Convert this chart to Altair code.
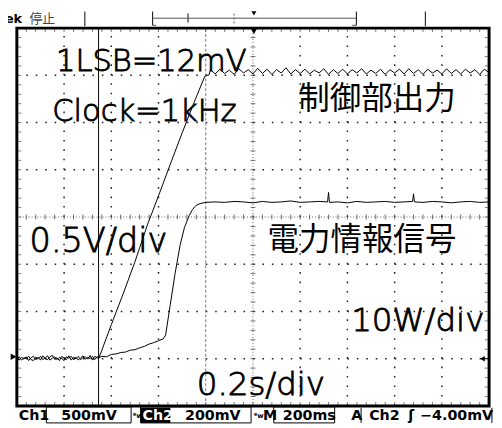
import altair as alt
import pandas as pd

# ---------------- data (time / level in graticule divisions; 0.2 s/div) ----------------
# Ch1 : 制御部出力 (0.5 V/div)
ch1_time = [0.00, 0.05, 0.10, 0.15, 0.20, 0.25, 0.30, 0.35, 0.40, 0.45,
            0.50, 0.55, 0.60, 0.65, 0.70, 0.75, 0.80, 0.85, 0.90, 0.95,
            1.00, 1.05, 1.10, 1.15, 1.20, 1.25, 1.30, 1.35, 1.40, 1.45,
            1.50, 1.55, 1.60, 1.65, 1.70,
            1.73, 1.80, 2.00, 2.25, 2.50, 2.77, 3.00, 3.25, 3.50, 3.75, 3.98,
            4.03, 4.07,
            4.10, 4.20, 4.30, 4.40, 4.50, 4.60, 4.70, 4.80, 4.90, 5.00,
            5.10, 5.20, 5.30, 5.40, 5.50, 5.60, 5.70, 5.80, 5.90, 6.00,
            6.10, 6.20, 6.30, 6.40, 6.50, 6.60, 6.70, 6.80, 6.90, 7.00,
            7.10, 7.20, 7.30, 7.40, 7.50, 7.60, 7.70, 7.80, 7.90, 8.00,
            8.10, 8.20, 8.30, 8.40, 8.50, 8.60, 8.70, 8.80, 8.90, 9.00,
            9.10, 9.20, 9.30, 9.40, 9.50, 9.60, 9.70, 9.80, 9.90, 10.00]
ch1_level = [1.01, 0.97, 1.03, 0.99, 1.04, 0.96, 1.02, 1.05, 0.98, 1.03,
             0.97, 1.06, 1.00, 0.98, 1.04, 1.07, 0.99, 1.02, 0.96, 1.05,
             1.01, 0.98, 1.06, 0.97, 1.03, 1.00, 1.05, 0.98, 1.02, 1.04,
             0.99, 1.07, 0.97, 1.05, 1.02,
             1.00, 1.18, 1.72, 2.37, 3.05, 3.85, 4.45, 5.12, 5.78, 6.42, 6.98,
             7.00, 7.01,
             7.12, 7.03, 7.13, 7.04, 7.11, 7.02, 7.14, 7.05, 7.12, 7.03,
             7.15, 7.04, 7.13, 7.02, 7.12, 7.05, 7.16, 7.03, 7.12, 7.04,
             7.13, 7.03, 7.11, 7.05, 7.14, 7.02, 7.12, 7.04, 7.13, 7.03,
             7.12, 7.05, 7.14, 7.03, 7.11, 7.04, 7.13, 7.02, 7.12, 7.05,
             7.13, 7.03, 7.14, 7.04, 7.12, 7.02, 7.13, 7.05, 7.11, 7.03,
             7.14, 7.04, 7.12, 7.03, 7.13, 7.05, 7.12, 7.02, 7.13, 7.06]

# Ch2 : 電力情報信号 (10 W/div)
ch2_time = [0.00, 0.05, 0.10, 0.15, 0.20, 0.25, 0.30, 0.35, 0.40, 0.45,
            0.50, 0.55, 0.60, 0.65, 0.70, 0.75, 0.80, 0.85, 0.90, 0.95,
            1.00, 1.05, 1.10, 1.15, 1.20, 1.25, 1.30, 1.35, 1.40, 1.45,
            1.50, 1.55, 1.60, 1.65, 1.70,
            1.73, 1.80, 1.90, 2.00, 2.10, 2.20, 2.30, 2.40, 2.50, 2.60,
            2.70, 2.80, 2.90, 3.00, 3.10, 3.15, 3.25, 3.35, 3.46, 3.55,
            3.65, 3.72, 3.80, 3.90, 4.00,
            4.20, 4.40, 4.60, 4.80, 5.00, 5.20, 5.40, 5.60, 5.80, 6.00,
            6.20, 6.40, 6.58, 6.60, 6.62, 6.80, 7.00, 7.20, 7.40, 7.60,
            7.80, 8.00, 8.20, 8.38, 8.40, 8.42, 8.60, 8.80, 9.00, 9.20,
            9.40, 9.60, 9.80, 10.00]
ch2_level = [0.99, 1.04, 0.97, 1.02, 1.00, 1.05, 0.98, 0.96, 1.03, 1.00,
             1.05, 0.98, 1.02, 1.06, 0.97, 1.01, 1.04, 0.98, 1.03, 1.00,
             0.96, 1.04, 1.01, 1.05, 0.98, 1.03, 0.97, 1.02, 1.06, 0.99,
             1.03, 1.00, 1.05, 0.98, 1.04,
             1.02, 1.05, 1.04, 1.09, 1.10, 1.13, 1.14, 1.18, 1.19, 1.23,
             1.26, 1.31, 1.34, 1.38, 1.42, 1.50, 2.15, 2.80, 3.42, 3.78,
             4.03, 4.16, 4.25, 4.29, 4.31,
             4.32, 4.31, 4.33, 4.32, 4.30, 4.33, 4.31, 4.32, 4.34, 4.31,
             4.32, 4.33, 4.32, 4.52, 4.31, 4.32, 4.30, 4.33, 4.31, 4.32,
             4.33, 4.31, 4.32, 4.33, 4.49, 4.32, 4.31, 4.33, 4.32, 4.30,
             4.32, 4.33, 4.31, 4.32]

# annotation texts
latin_labels = ["1LSB=12mV", "Clock=1kHz", "0.5V/div", "10W/div", "0.2s/div"]
cjk_labels = ["制御部出力", "電力情報信号"]
status_labels = ["Ch1", "500mV", "ᴮw", "Ch2", "200mV", "ᴮw", "M", "200ms", "A", "Ch2", "ʃ", "−4.00mV"]

# ---------------- layout (graticule divisions) ----------------
latin_x = [0.83, 0.75, 0.27, 7.08, 3.81]
latin_y = [7.10, 6.04, 3.25, 1.58, 0.23]
latin_fs = [31, 31, 34, 33, 33]
cjk_x = [5.96, 5.31]
cjk_y = [6.50, 3.50]
status_x = [0.04, 0.94, 2.46, 2.66, 3.56, 5.02, 5.21, 5.63, 7.08, 7.46, 8.29, 8.54]
status_fs = [14.5, 14.5, 7, 14.5, 14.5, 7, 14.5, 14.5, 14.5, 14.5, 14.5, 14.5]
status_col = ["black", "black", "black", "white", "black", "black", "black", "black",
              "black", "black", "black", "black"]
STATUS_Y = -0.21

XS = alt.Scale(domain=[0, 10], nice=False, zero=False)
YS = alt.Scale(domain=[0, 8], nice=False, zero=False)


def X(f="x"):
    return alt.X(f"{f}:Q", scale=XS, axis=None)


def Y(f="y"):
    return alt.Y(f"{f}:Q", scale=YS, axis=None)


# traces
traces = pd.concat([
    pd.DataFrame({"x": ch1_time, "y": ch1_level, "ch": "Ch1"}),
    pd.DataFrame({"x": ch2_time, "y": ch2_level, "ch": "Ch2"}),
])

# graticule
DOT = [1.6, 8.0]
gv = pd.DataFrame({"x": [1, 2, 3, 6, 7, 8, 9], "y": 0, "y2": 8})
gh = pd.DataFrame({"y": [1, 2, 3, 5, 6, 7], "x": 0, "x2": 10})
grid_v = alt.Chart(gv).mark_rule(color="#222", strokeWidth=1.5, strokeDash=DOT).encode(
    x=X(), y=Y(), y2="y2:Q")
grid_h = alt.Chart(gh).mark_rule(color="#222", strokeWidth=1.5, strokeDash=DOT).encode(
    y=Y(), x=X(), x2="x2:Q")
cv = pd.DataFrame({"x": [5], "y": [0], "y2": [8]})
ch_ = pd.DataFrame({"y": [4], "x": [0], "x2": [10]})
center_v = alt.Chart(cv).mark_rule(color="#666", strokeWidth=1, strokeDash=[1, 2]).encode(
    x=X(), y=Y(), y2="y2:Q")
center_h = alt.Chart(ch_).mark_rule(color="#666", strokeWidth=1, strokeDash=[1, 2]).encode(
    y=Y(), x=X(), x2="x2:Q")
minor = [round(0.2 * k, 2) for k in range(1, 50)]
minor_y = [round(0.2 * k, 2) for k in range(1, 40)]
tick_h_center = alt.Chart(pd.DataFrame({"x": minor, "y": 4})).mark_tick(
    orient="vertical", size=5, thickness=1, color="#333").encode(x=X(), y=Y())
tick_v_center = alt.Chart(pd.DataFrame({"y": minor_y, "x": 5})).mark_tick(
    orient="horizontal", size=5, thickness=1, color="#333").encode(x=X(), y=Y())
edge_tb = alt.Chart(pd.DataFrame({"x": minor * 2, "y": [7.95] * len(minor) + [0.05] * len(minor)})).mark_tick(
    orient="vertical", size=3, thickness=1, color="#444").encode(x=X(), y=Y())
edge_lr = alt.Chart(pd.DataFrame({"y": minor_y * 2, "x": [0.06] * len(minor_y) + [9.94] * len(minor_y)})).mark_tick(
    orient="horizontal", size=3, thickness=1, color="#444").encode(x=X(), y=Y())

# cursors
cur_solid = alt.Chart(pd.DataFrame({"x": [1.73], "y": [0], "y2": [8]})).mark_rule(
    color="black", strokeWidth=1).encode(x=X(), y=Y(), y2="y2:Q")
cur_dash = alt.Chart(pd.DataFrame({"x": [4.0], "y": [0], "y2": [8]})).mark_rule(
    color="#777", strokeWidth=1, strokeDash=[3, 2]).encode(x=X(), y=Y(), y2="y2:Q")

lines = alt.Chart(traces).mark_line(color="black", strokeWidth=1, interpolate="linear").encode(
    x=X(), y=Y(), detail="ch:N")

frame = alt.Chart(pd.DataFrame({"x": [0], "x2": [10], "y": [0], "y2": [8]})).mark_rect(
    filled=False, stroke="black", strokeWidth=3).encode(x=X(), x2="x2:Q", y=Y(), y2="y2:Q")

# markers
trig = alt.Chart(pd.DataFrame({"x": [5.02], "y": [7.95]})).mark_point(
    shape="triangle-down", filled=True, color="black", size=70, opacity=1).encode(x=X(), y=Y())
gnd1 = alt.Chart(pd.DataFrame({"x": [-0.07], "y": [1.04]})).mark_point(
    shape="triangle-right", filled=True, color="black", size=45, opacity=1).encode(x=X(), y=Y())
gnd2 = alt.Chart(pd.DataFrame({"x": [9.86], "y": [1.0]})).mark_point(
    shape="triangle-left", filled=True, color="black", size=30, opacity=1).encode(x=X(), y=Y())
gnd2_line = alt.Chart(pd.DataFrame({"x": [9.86], "x2": [10], "y": [1.0]})).mark_rule(
    color="black", strokeWidth=1).encode(x=X(), x2="x2:Q", y=Y())

# text labels
latin = alt.Chart(pd.DataFrame({"t": latin_labels, "x": latin_x, "y": latin_y, "fs": latin_fs})).mark_text(
    align="left", baseline="alphabetic", font="DejaVu Sans", fontWeight=200, color="black",
    stroke="black", strokeWidth=0.9).encode(
    x=X(), y=Y(), text="t:N", size=alt.Size("fs:Q", scale=None, legend=None))
cjk = alt.Chart(pd.DataFrame({"t": cjk_labels, "x": cjk_x, "y": cjk_y})).mark_text(
    align="left", baseline="middle", font="Noto Sans CJK JP", fontSize=32, color="black").encode(
    x=X(), y=Y(), text="t:N")

# status line (bottom)
boxes = alt.Chart(pd.DataFrame({"x": [0.625, 2.62, 5.44], "x2": [2.42, 4.96, 6.73],
                                "y": [-0.02] * 3, "y2": [-0.36] * 3})).mark_rect(
    filled=False, stroke="black", strokeWidth=1).encode(x=X(), x2="x2:Q", y=Y(), y2="y2:Q")
inv = alt.Chart(pd.DataFrame({"x": [2.62], "x2": [3.25], "y": [-0.04], "y2": [-0.36]})).mark_rect(
    color="black").encode(x=X(), x2="x2:Q", y=Y(), y2="y2:Q")
bars = alt.Chart(pd.DataFrame({"x": [7.29, 10.06], "y": [-0.04, -0.04], "y2": [-0.36, -0.36]})).mark_rule(
    color="black", strokeWidth=1).encode(x=X(), y=Y(), y2="y2:Q")
status = alt.Chart(pd.DataFrame({"t": status_labels, "x": status_x, "y": STATUS_Y,
                                 "fs": status_fs, "c": status_col})).mark_text(
    align="left", baseline="middle", font="DejaVu Sans", fontWeight="bold").encode(
    x=X(), y=Y(), text="t:N", size=alt.Size("fs:Q", scale=None, legend=None),
    color=alt.Color("c:N", scale=None, legend=None))

# top bar
tek = alt.Chart(pd.DataFrame({"t": ["Tek"], "x": [0.11], "y": [8.19]})).mark_text(
    align="right", baseline="middle", font="DejaVu Sans", fontWeight="bold", fontSize=13,
    color="black").encode(x=X(), y=Y(), text="t:N")
stop = alt.Chart(pd.DataFrame({"t": ["停止"], "x": [0.27], "y": [8.19]})).mark_text(
    align="left", baseline="middle", font="Noto Sans CJK JP", fontSize=13,
    color="#444").encode(x=X(), y=Y(), text="t:N")
top_v = alt.Chart(pd.DataFrame({"x": [1.44, 2.875, 7.19, 8.65, 3.625],
                                "y": [8.04, 8.06, 8.06, 8.04, 8.12],
                                "y2": [8.35, 8.35, 8.35, 8.35, 8.31]})).mark_rule(
    color="black", strokeWidth=1).encode(x=X(), y=Y(), y2="y2:Q")
top_h = alt.Chart(pd.DataFrame({"x": [2.875, 2.875, 7.10], "x2": [7.19, 2.95, 7.19],
                                "y": [8.21, 8.06, 8.06]})).mark_rule(
    color="#555", strokeWidth=1).encode(x=X(), x2="x2:Q", y=Y())
top_d = alt.Chart(pd.DataFrame({"x": [4.60], "y": [8.10], "y2": [8.33]})).mark_rule(
    color="#555", strokeWidth=1, strokeDash=[2, 2]).encode(x=X(), y=Y(), y2="y2:Q")
top_tri = alt.Chart(pd.DataFrame({"x": [5.02], "y": [8.31]})).mark_point(
    shape="triangle-down", filled=True, color="black", size=25, opacity=1).encode(x=X(), y=Y())

chart = alt.layer(
    grid_v, grid_h, center_v, center_h, tick_h_center, tick_v_center, edge_tb, edge_lr,
    cur_dash, cur_solid, lines, latin, cjk, frame, trig, gnd1, gnd2, gnd2_line,
    boxes, inv, bars, status, tek, stop, top_v, top_h, top_d, top_tri,
).properties(
    width=480, height=384,
    autosize=alt.AutoSizeParams(type="none"),
    padding={"left": 9, "top": 17, "right": 5, "bottom": 19},
    background="white",
).configure_view(stroke=None)

chart.save("out.html", embed_options={"renderer": "svg", "actions": False})
